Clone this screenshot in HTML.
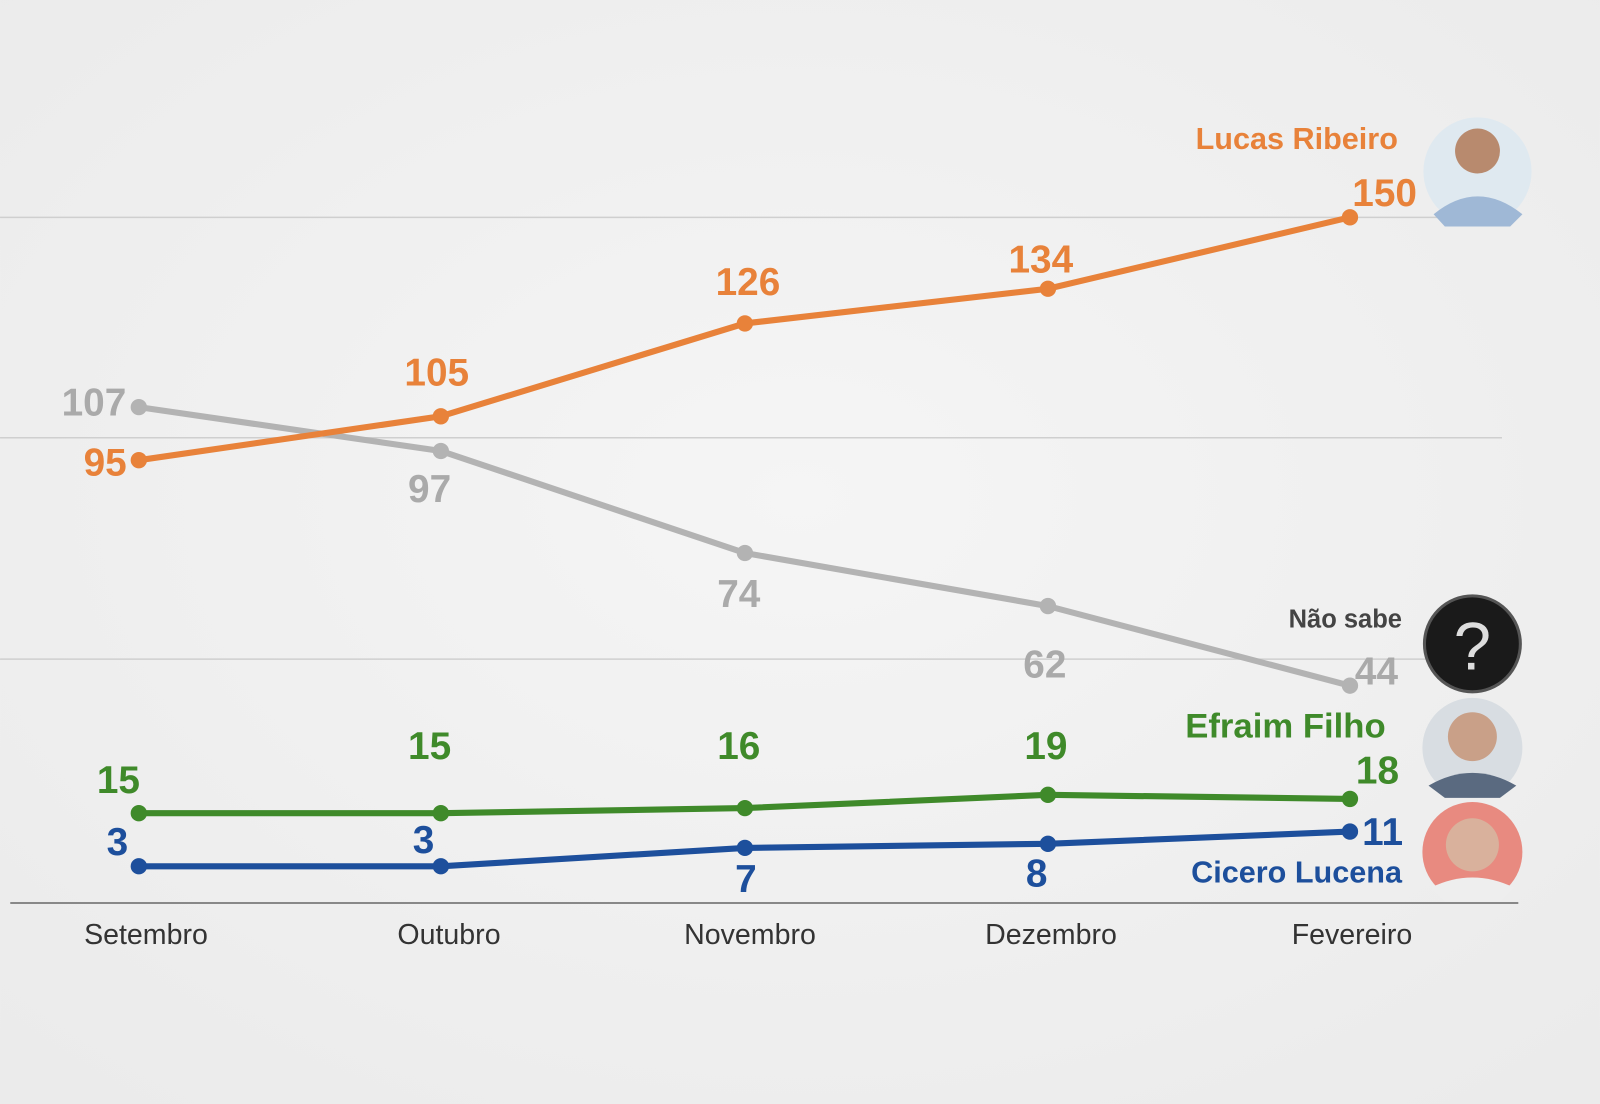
<!DOCTYPE html>
<html><head><meta charset="utf-8"><style>
html,body{margin:0;padding:0;background:#efefef;}
svg{display:block;}
text{font-family:"Liberation Sans","DejaVu Sans",sans-serif;font-weight:bold;}
text.n{font-weight:normal;}
</style></head><body>
<svg width="1600" height="1104" viewBox="0 0 1568 1082" xmlns="http://www.w3.org/2000/svg">
<defs>
<radialGradient id="bg" cx="0.5" cy="0.45" r="0.7"><stop offset="0" stop-color="#f5f5f5"/><stop offset="1" stop-color="#ebebeb"/></radialGradient>
</defs>
<rect width="1568" height="1082" fill="url(#bg)"/>
<g stroke="#cfcfcf" stroke-width="1.5">
<line x1="0" y1="213" x2="1472" y2="213"/>
<line x1="0" y1="429" x2="1472" y2="429"/>
<line x1="0" y1="646" x2="1472" y2="646"/>
</g>
<line x1="10" y1="885" x2="1488" y2="885" stroke="#888" stroke-width="2"/>
<g font-size="28" fill="#333" text-anchor="middle">
<text class="n" x="143" y="925">Setembro</text>
<text class="n" x="440" y="925">Outubro</text>
<text class="n" x="735" y="925">Novembro</text>
<text class="n" x="1030" y="925">Dezembro</text>
<text class="n" x="1325" y="925">Fevereiro</text>
</g>
<polyline points="136,399 432,442 730,542 1027,594 1323,672" fill="none" stroke="#b3b3b3" stroke-width="6"/>
<g fill="#b3b3b3"><circle cx="136" cy="399" r="8"/><circle cx="432" cy="442" r="8"/><circle cx="730" cy="542" r="8"/><circle cx="1027" cy="594" r="8"/><circle cx="1323" cy="672" r="8"/></g>
<polyline points="136,451 432,408 730,317 1027,283 1323,213" fill="none" stroke="#e8823a" stroke-width="6"/>
<g fill="#e8823a"><circle cx="136" cy="451" r="8"/><circle cx="432" cy="408" r="8"/><circle cx="730" cy="317" r="8"/><circle cx="1027" cy="283" r="8"/><circle cx="1323" cy="213" r="8"/></g>
<polyline points="136,797 432,797 730,792 1027,779 1323,783" fill="none" stroke="#3f8a2a" stroke-width="6"/>
<g fill="#3f8a2a"><circle cx="136" cy="797" r="8"/><circle cx="432" cy="797" r="8"/><circle cx="730" cy="792" r="8"/><circle cx="1027" cy="779" r="8"/><circle cx="1323" cy="783" r="8"/></g>
<polyline points="136,849 432,849 730,831 1027,827 1323,815" fill="none" stroke="#1d4f9c" stroke-width="6"/>
<g fill="#1d4f9c"><circle cx="136" cy="849" r="8"/><circle cx="432" cy="849" r="8"/><circle cx="730" cy="831" r="8"/><circle cx="1027" cy="827" r="8"/><circle cx="1323" cy="815" r="8"/></g>
<g font-size="38" fill="#e8823a" text-anchor="middle">
<text x="103" y="466">95</text><text x="428" y="378">105</text><text x="733" y="289">126</text><text x="1020" y="267">134</text><text x="1357" y="202">150</text>
</g>
<g font-size="38" fill="#aaaaaa" text-anchor="middle">
<text x="92" y="407">107</text><text x="421" y="492">97</text><text x="724" y="595">74</text><text x="1024" y="664">62</text><text x="1349" y="671">44</text>
</g>
<g font-size="38" fill="#3f8a2a" text-anchor="middle">
<text x="116" y="777">15</text><text x="421" y="744">15</text><text x="724" y="744">16</text><text x="1025" y="744">19</text><text x="1350" y="768">18</text>
</g>
<g font-size="38" fill="#1d4f9c" text-anchor="middle">
<text x="115" y="838">3</text><text x="415" y="836">3</text><text x="731" y="874">7</text><text x="1016" y="869">8</text><text x="1355" y="828">11</text>
</g>
<text x="1370" y="146" font-size="30" fill="#e8823a" text-anchor="end">Lucas Ribeiro</text>
<text x="1374" y="615" font-size="25" fill="#444" text-anchor="end">Não sabe</text>
<text x="1358" y="723" font-size="34" fill="#3f8a2a" text-anchor="end">Efraim Filho</text>
<text x="1374" y="865" font-size="30" fill="#1d4f9c" text-anchor="end">Cicero Lucena</text>
<circle cx="1448" cy="168" r="53" fill="#dfe9f0"/><circle cx="1448" cy="148" r="22" fill="#b88a6e"/><path d="M1405 210 Q1448 175 1492 210 L1480 222 L1416 222Z" fill="#9fb8d6"/>
<circle cx="1443" cy="631" r="47" fill="#1a1a1a" stroke="#555" stroke-width="3"/>
<text class="n" x="1443" y="656" font-size="66" fill="#ddd" text-anchor="middle">?</text>
<circle cx="1443" cy="733" r="49" fill="#d8dde2"/><circle cx="1443" cy="722" r="24" fill="#c9a088"/><path d="M1400 770 Q1443 745 1486 770 L1470 782 L1416 782Z" fill="#5a6a80"/>
<circle cx="1443" cy="835" r="49" fill="#e88a80"/><circle cx="1443" cy="828" r="26" fill="#d9b19c"/><path d="M1402 870 Q1443 850 1484 870 L1470 884 L1416 884Z" fill="#eeeeee"/>
</svg>
</body></html>
